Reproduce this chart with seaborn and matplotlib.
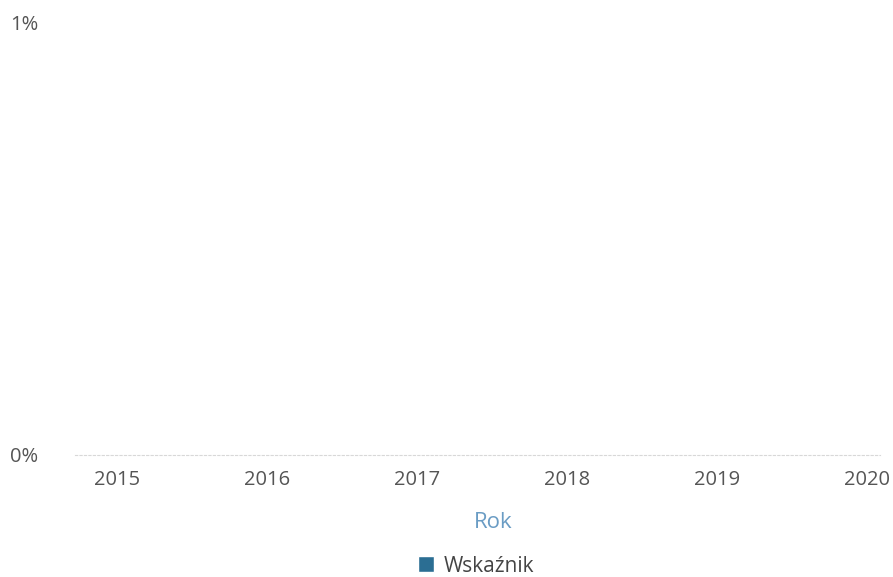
import pandas as pd
from matplotlib import pyplot as plt
import seaborn as sns

## Chart data (all values read as zero from the picture)
years = ['2015', '2016', '2017', '2018', '2019', '2020']
values = [0, 0, 0, 0, 0, 0]
series_name = 'Wskaźnik'

df = pd.DataFrame({'Rok': years, 'value': values, 'series': [series_name] * len(years)})

sns.set_style('white')
plt.rcParams['font.family'] = ['Open Sans', 'DejaVu Sans']

fig = plt.figure(figsize=(8.93, 5.77), dpi=100)
ax = fig.add_axes([75 / 893, 122 / 577, (880 - 75) / 893, (455 - 22) / 577])

bar_color = '#2b6e93'
sns.barplot(data=df, x='Rok', y='value', hue='series', palette=[bar_color], ax=ax,
            width=0.6, saturation=1)

ax.set_ylim(0, 0.01)
ax.set_yticks([0, 0.01])
ax.set_yticklabels(['0%', '1%'], ha='left')
ax.set_xlim(-0.28, 5.09)

ax.tick_params(axis='y', length=0, pad=47, labelsize=14.5, labelcolor='#555555')
ax.tick_params(axis='x', length=0, pad=11, labelsize=14.5, labelcolor='#555555')

for side in ['top', 'right', 'left']:
    ax.spines[side].set_visible(False)
ax.spines['bottom'].set_color('#d8d8d8')
ax.spines['bottom'].set_linestyle((0, (2, 2)))
ax.spines['bottom'].set_linewidth(0.8)

ax.set_ylabel('')
ax.set_xlabel('Rok', color='#6a9cc4', fontsize=16, labelpad=10)
ax.xaxis.set_label_coords((493 - 75) / (880 - 75), -(522 - 455) / (455 - 22))
ax.xaxis.label.set_va('center')

leg = ax.legend(loc='center', bbox_to_anchor=((476 - 75) / (880 - 75), -(566 - 455) / (455 - 22)),
                frameon=False, fontsize=15, handlelength=0.8, handleheight=0.8, handletextpad=0.45)
for txt in leg.get_texts():
    txt.set_color('#444444')

fig.savefig('out.png', dpi=100)
